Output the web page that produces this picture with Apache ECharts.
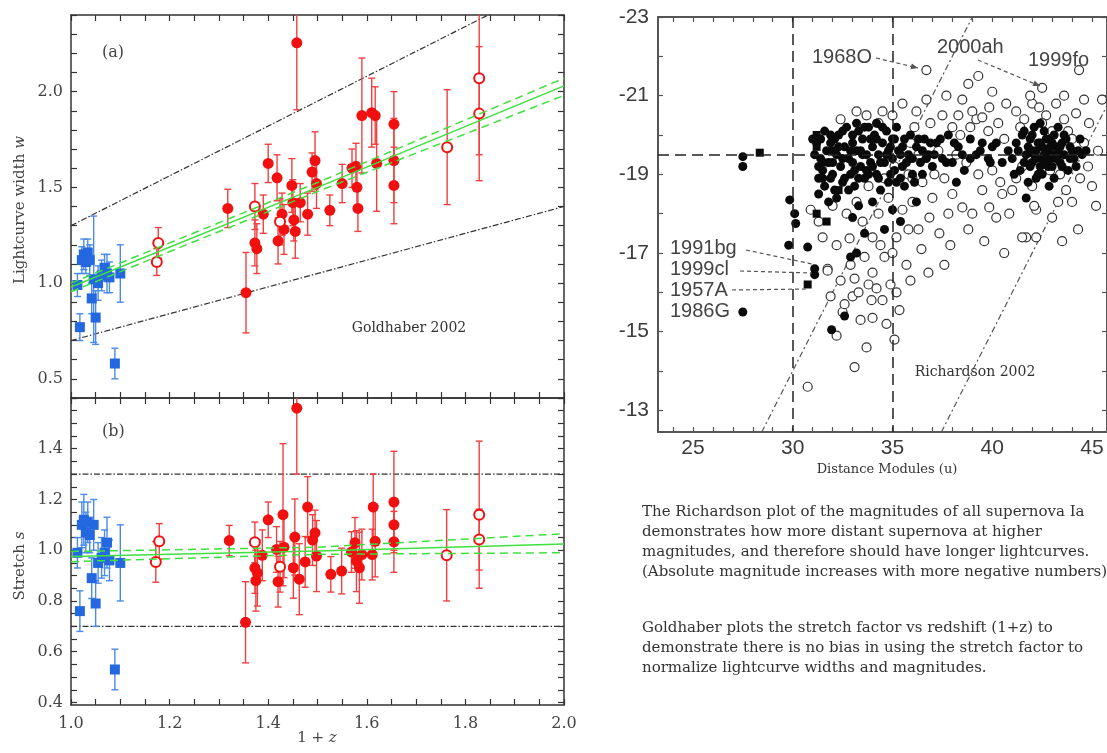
<!DOCTYPE html>
<html><head><meta charset="utf-8">
<script src="https://cdn.jsdelivr.net/npm/echarts@6/dist/echarts.min.js"></script>
<style>html,body{margin:0;padding:0;background:#fff}#c{width:1107px;height:753px}</style>
</head><body><div id="c"></div>
<script>
// ---------- Goldhaber 2002, panel (a) lightcurve width w and panel (b) stretch s ----------
const blueZ    = [1.013,1.018,1.022,1.026,1.030,1.034,1.038,1.042,1.046,1.050,1.055,1.062,1.068,1.073,1.078,1.089,1.100];
const blueW    = [0.99,0.77,1.12,1.15,1.11,1.16,1.12,0.92,1.02,0.82,1.00,1.04,1.08,1.05,1.03,0.58,1.05];
const blueWErr = [0.06,0.07,0.07,0.08,0.06,0.07,0.08,0.08,0.33,0.14,0.09,0.08,0.07,0.10,0.08,0.08,0.15];
const blueS    = [0.99,0.76,1.10,1.12,1.07,1.11,1.06,0.89,1.10,0.79,0.95,0.97,0.99,1.03,0.96,0.53,0.95];
const blueSErr = [0.06,0.08,0.09,0.10,0.08,0.08,0.07,0.08,0.10,0.09,0.08,0.08,0.09,0.10,0.08,0.08,0.15];

const redAZ   = [1.318,1.355,1.373,1.377,1.390,1.400,1.418,1.420,1.428,1.432,1.448,1.450,1.452,1.455,1.458,1.465,1.480,1.489,1.495,1.498,1.525,1.550,1.570,1.578,1.580,1.582,1.590,1.610,1.617,1.620,1.655,1.655,1.655];
const redAW   = [1.39,0.95,1.21,1.18,1.36,1.625,1.55,1.22,1.36,1.28,1.51,1.42,1.33,1.27,2.255,1.42,1.36,1.58,1.64,1.52,1.38,1.52,1.60,1.61,1.50,1.39,1.875,1.89,1.875,1.625,1.83,1.64,1.51];
const redAErr = [0.10,0.21,0.12,0.13,0.10,0.10,0.12,0.12,0.11,0.13,0.14,0.12,0.11,0.14,0.35,0.10,0.11,0.10,0.15,0.13,0.08,0.10,0.10,0.12,0.12,0.12,0.30,0.18,0.15,0.25,0.17,0.22,0.20];

const redBZ   = [1.321,1.354,1.373,1.375,1.378,1.388,1.400,1.417,1.420,1.430,1.432,1.451,1.454,1.458,1.463,1.475,1.480,1.490,1.495,1.498,1.527,1.549,1.569,1.576,1.579,1.585,1.590,1.611,1.613,1.617,1.655,1.655,1.655];
const redBS   = [1.038,0.716,0.93,0.88,0.91,0.98,1.12,1.003,0.876,1.14,1.012,0.931,1.052,1.56,0.886,0.954,1.17,1.04,1.068,0.977,0.905,0.918,0.993,1.029,0.957,0.931,0.983,0.983,1.17,1.035,1.19,1.10,1.033];
const redBErr = [0.06,0.16,0.10,0.12,0.13,0.10,0.07,0.09,0.10,0.28,0.12,0.12,0.15,0.26,0.14,0.10,0.12,0.10,0.09,0.14,0.07,0.09,0.08,0.10,0.12,0.14,0.10,0.10,0.13,0.14,0.20,0.10,0.12];

const openAZ   = [1.174,1.177,1.373,1.424,1.763,1.828,1.828];
const openAW   = [1.11,1.21,1.40,1.32,1.71,2.07,1.885];
const openAErr = [0.07,0.08,0.12,0.12,0.30,0.40,0.35];
const openBZ   = [1.172,1.179,1.373,1.424,1.762,1.828,1.828];
const openBS   = [0.954,1.035,1.031,0.935,0.98,1.14,1.042];
const openBErr = [0.08,0.07,0.08,0.10,0.18,0.29,0.12];

const fitZ   = [1.0, 1.5, 2.0];
const fitW   = [0.98, 1.50, 2.03];
const fitWHi = [1.00, 1.525, 2.07];
const fitWLo = [0.955, 1.478, 1.98];
const fitS   = [0.975, 0.997, 1.025];
const fitSHi = [0.995, 1.012, 1.065];
const fitSLo = [0.955, 0.984, 0.99];
const boundZ   = [1.0, 2.0];
const boundWHi = [1.3, 2.6];
const boundWLo = [0.7, 1.4];
const boundS   = [1.3, 0.7];

const zLabels = [1.0,1.2,1.4,1.6,1.8,2.0];
const wLabels = [0.5,1.0,1.5,2.0];
const sLabels = [0.4,0.6,0.8,1.0,1.2,1.4];

// ---------- Richardson 2002: distance modulus vs absolute magnitude ----------
const muLabels = [25,30,35,40,45];
const magLabels = [-23,-21,-19,-17,-15,-13];
const refMu = [30, 35];
const refMag = [-19.5];
const appMag = [16, 25];

const richFilled = [
 [27.5,-19.45],[27.5,-19.2],[29.85,-18.35],[30.1,-18.0],[30.15,-17.75],[29.8,-17.2],[30.75,-17.15],[31.1,-16.6],[31.1,-16.45],[31.95,-15.05],[27.5,-15.5],
 [31.0,-19.9],[31.2,-19.8],[31.4,-19.4],[31.5,-19.1],[31.3,-18.9],[31.6,-18.7],[31.8,-19.3],[31.9,-19.8],[32.0,-19.0],[32.1,-18.6],[32.2,-19.5],[32.3,-20.0],[32.4,-19.2],[32.5,-18.8],
 [32.6,-19.7],[32.7,-20.2],[32.8,-19.4],[32.9,-19.0],[33.0,-19.8],[33.1,-18.7],[33.2,-19.6],[33.3,-20.1],[33.4,-19.2],[33.5,-19.9],[33.6,-18.9],[33.7,-19.5],[33.8,-20.2],[33.9,-19.3],
 [34.0,-19.7],[34.1,-20.0],[34.2,-19.0],[34.3,-19.5],[34.4,-18.6],[34.5,-19.8],[34.6,-19.3],[34.7,-20.1],[34.8,-19.6],[34.9,-19.0],[35.0,-19.4],[35.1,-19.9],[35.2,-18.8],[35.3,-19.6],
 [35.5,-19.2],[35.6,-19.9],[35.8,-19.5],[36.0,-19.0],[36.2,-19.7],[36.4,-19.3],[36.6,-19.9],[36.8,-19.5],[37.0,-19.2],[37.2,-19.8],[37.5,-19.4],[37.8,-20.0],[38.0,-19.3],[38.3,-19.7],
 [38.6,-19.1],[38.9,-19.9],[39.2,-19.5],[39.5,-19.8],[39.8,-19.4],[40.0,-19.7],
 [31.3,-18.5],[31.8,-18.3],[32.2,-18.4],[31.5,-18.9],[32.6,-18.9],[31.7,-19.6],[32.0,-19.3],[33.0,-19.3],[33.4,-19.6],[34.2,-19.9],[35.4,-19.5],[36.5,-19.6],[31.9,-20.0],[33.7,-19.1],
 [31.1,-19.5],[31.3,-19.2],[31.6,-20.1],[31.9,-18.9],[32.1,-19.9],[32.3,-19.7],[32.5,-19.4],[32.5,-20.1],[32.8,-18.6],[32.9,-19.6],[33.1,-19.1],[33.2,-20.3],[33.5,-19.5],[33.6,-20.2],
 [33.8,-19.0],[33.9,-19.9],[34.0,-19.2],[34.2,-20.3],[34.3,-18.9],[34.4,-19.3],[34.5,-20.2],[34.7,-19.5],[34.8,-18.8],[35.0,-19.9],[35.1,-19.1],[35.2,-20.2],[35.4,-18.9],[35.5,-19.7],
 [35.7,-19.3],[35.9,-20.0],[36.0,-19.4],[36.1,-18.8],[36.3,-19.9],[36.5,-19.0],[36.7,-19.4],[36.9,-19.8],[37.1,-19.5],[37.4,-19.9],[37.7,-19.3],[38.1,-19.8],[38.5,-19.5],[38.9,-19.4],
 [39.4,-19.6],[39.9,-19.3],[32.0,-19.6],[33.3,-18.9],[34.9,-19.7],[35.6,-18.7],[31.4,-19.9],[33.0,-20.0],
 [33.0,-17.9],[33.3,-18.2],[34.0,-18.3],[34.6,-17.6],[35.0,-18.1],[33.2,-17.0],[32.9,-16.9],[35.4,-17.8],[36.2,-18.3],[38.2,-18.8],[32.6,-15.4],[33.6,-17.5],
 [41.0,-19.4],[41.2,-19.8],[41.4,-19.1],[41.5,-20.0],[41.7,-19.5],[41.8,-18.8],[41.9,-19.9],[42.0,-19.3],[42.1,-20.2],[42.2,-19.6],[42.3,-19.0],[42.4,-19.8],[42.5,-19.4],[42.6,-20.1],
 [42.7,-19.6],[42.8,-19.2],[42.9,-19.9],[43.0,-19.5],[43.1,-18.9],[43.2,-19.7],[43.3,-20.2],[43.4,-19.3],[43.5,-19.8],[43.6,-19.5],[43.8,-19.1],[43.9,-19.7],[44.1,-19.4],[44.3,-19.6],
 [44.5,-19.5],[42.0,-19.6],[42.6,-19.5],[42.4,-19.2],[43.0,-19.8],[42.8,-19.6],[41.7,-18.4],[42.85,-18.7],[40.5,-19.3],[40.2,-19.8],[42.2,-19.4],[43.3,-19.5],[42.5,-19.7],[41.6,-19.3],
 [41.1,-19.0],[41.3,-19.6],[41.6,-20.1],[41.9,-19.2],[42.0,-20.0],[42.2,-18.9],[42.3,-19.8],[42.4,-20.3],[42.5,-19.0],[42.6,-19.3],[42.7,-19.9],[42.9,-19.4],[43.0,-19.2],[43.1,-20.0],
 [43.2,-19.4],[43.4,-19.7],[43.5,-19.2],[43.7,-19.9],[43.9,-19.4],[44.0,-19.6],[44.2,-19.2],[44.4,-19.9],[44.7,-19.6],[42.1,-19.5],[42.7,-19.4],[43.3,-19.6],[41.8,-19.7],[42.9,-19.7],
 [43.6,-20.0],[40.8,-19.6]
];
const richSquares = [[28.35,-19.55],[31.2,-20.0],[31.2,-19.7],[31.2,-18.0],[31.7,-17.8],[30.75,-16.2],[31.6,-19.3],[32.3,-18.6]];
const richOpen = [
 [31.75,-16.6],[32.5,-15.5],[32.6,-15.7],[30.75,-13.6],[33.1,-14.1],[33.1,-16.35],[34.0,-16.5],[33.95,-15.8],[34.5,-15.8],[35.35,-15.55],[34.0,-15.35],[32.85,-17.37],
 [34.0,-17.4],[35.2,-17.4],[35.7,-16.7],[33.5,-17.8],[34.3,-18.0],[32.2,-17.2],[33.6,-16.9],[34.6,-16.9],[35.0,-17.0],[33.2,-18.3],[32.7,-18.0],[34.8,-18.4],[35.5,-18.1],[33.8,-16.2],
 [34.9,-16.2],[32.9,-16.7],[35.2,-16.0],[34.4,-17.2],[33.4,-15.3],[33.0,-15.9],[35.8,-17.6],[36.0,-18.3],[31.5,-17.4],[32.0,-18.2],
 [32.4,-20.4],[33.2,-20.6],[34.3,-20.3],[35.0,-20.5],[35.5,-20.8],[36.1,-20.2],[36.7,-20.9],[35.8,-19.0],[36.5,-18.8],[37.0,-18.4],[36.85,-17.9],[37.35,-17.5],[36.45,-17.1],
 [37.6,-16.7],[37.1,-19.0],[37.6,-18.9],[36.3,-19.5],[35.9,-19.8],[34.6,-18.9],[33.8,-18.7],[35.1,-19.2],[36.9,-20.3],
 [38.5,-20.9],[39.0,-20.6],[39.85,-20.7],[39.2,-20.4],[39.5,-20.45],[38.0,-20.2],[38.4,-20.0],[39.8,-20.1],[40.3,-20.3],[40.6,-19.9],[38.7,-19.3],[39.3,-19.0],[40.0,-19.1],[40.4,-18.8],
 [39.5,-18.6],[38.5,-18.16],[39.85,-18.16],[40.2,-17.9],[40.85,-18.0],[38.0,-18.5],[37.8,-18.0],[39.0,-18.0],[40.5,-18.5],[41.0,-18.6],[38.2,-19.5],[37.5,-20.5],[38.8,-21.3],
 [39.3,-21.5],[40.0,-21.1],[38.9,-20.2],
 [41.2,-20.6],[41.6,-20.4],[42.0,-20.8],[42.35,-20.7],[42.7,-20.5],[43.2,-20.8],[43.6,-20.4],[44.2,-20.55],[44.85,-20.3],[45.5,-20.9],[41.4,-20.2],[42.5,-20.3],[43.0,-20.1],
 [43.8,-20.1],[44.0,-19.9],[44.6,-19.8],[44.8,-19.2],[44.4,-18.9],[43.7,-18.6],[43.3,-18.3],[42.2,-18.1],[41.7,-17.4],[42.2,-17.4],[41.5,-17.4],[43.0,-17.9],[41.2,-18.9],
 [42.0,-18.7],[44.0,-18.3],[45.0,-18.7],[45.3,-19.6],[41.5,-19.2],[42.9,-19.1],[43.4,-19.0],[42.1,-18.2],
 [36.7,-21.65],[42.5,-21.2],[44.35,-21.65],[31.75,-16.55],[36.0,-18.9],[37.3,-19.6],
 [30.9,-18.1],[31.3,-17.8],[32.4,-16.3],[33.3,-16.0],[34.2,-16.1],[34.7,-15.2],[35.1,-14.8],[33.7,-14.6],[32.2,-14.9],[31.9,-15.9],[35.9,-16.3],[36.3,-17.6],[36.8,-16.5],
 [37.9,-17.2],[38.8,-17.6],[39.6,-17.3],[40.6,-17.0],[43.5,-17.3],[44.3,-17.6],[45.2,-18.2],[38.3,-20.5],[40.7,-20.8],[41.9,-21.0],[43.6,-21.0],[44.6,-20.9],[37.7,-21.0],
 [36.2,-20.6],[34.5,-20.6],[33.7,-20.5]
];

// ---------- helpers ----------
const zip = (...a) => a[0].map((_, i) => a.map(x => x[i]));
const range = (a, b, s) => Array.from({length: Math.round((b - a) / s) + 1}, (_, i) => +(a + i * s).toFixed(4));

const SERIF = 'DejaVu Serif';
const SANS = 'Liberation Sans';
const RED = '#f01010', REDBAR = '#f04040', BLUE = '#2468e0', BLUEBAR = '#4a8ae8', GREEN = '#3ee03e';

function errItem(color) {
  return function (params, api) {
    const x = api.value(0), y = api.value(1), e = api.value(2);
    const a = api.coord([x, y + e]), b = api.coord([x, y - e]);
    const c = 3.5, st = {stroke: color, lineWidth: 1.4};
    return {type: 'group', children: [
      {type: 'line', shape: {x1: a[0], y1: a[1], x2: b[0], y2: b[1]}, style: st},
      {type: 'line', shape: {x1: a[0] - c, y1: a[1], x2: a[0] + c, y2: a[1]}, style: st},
      {type: 'line', shape: {x1: b[0] - c, y1: b[1], x2: b[0] + c, y2: b[1]}, style: st}
    ]};
  };
}

function axis(o) {
  const lc = o.lineColor || '#333';
  return {
    type: 'value', gridIndex: o.grid, position: o.position, min: o.min, max: o.max, inverse: !!o.inverse,
    splitLine: {show: false},
    axisLine: {show: true, onZero: false, lineStyle: {color: lc, width: o.lineWidth || 1.5}},
    axisTick: {show: true, inside: true, length: o.tickLen || 6, customValues: o.ticks, lineStyle: {color: lc, width: 1.2}},
    axisLabel: o.labels ? {show: true, customValues: o.labels, margin: o.margin || 8, color: o.labelColor || '#444',
      fontFamily: o.font || SERIF, fontSize: o.fontSize || 16, formatter: o.fmt} : {show: false}
  };
}

const zTicks = range(1.0, 2.0, 0.05);
const f1 = v => (+v).toFixed(1);

const xAxes = [
  axis({grid: 0, position: 'bottom', min: 1, max: 2, ticks: zTicks}),
  axis({grid: 0, position: 'top', min: 1, max: 2, ticks: zTicks}),
  axis({grid: 1, position: 'bottom', min: 1, max: 2, ticks: zTicks, labels: zLabels, fmt: f1, margin: 11}),
  axis({grid: 1, position: 'top', min: 1, max: 2, ticks: zTicks}),
  axis({grid: 2, position: 'bottom', min: 23.25, max: 45.75, ticks: range(24, 45, 1), labels: muLabels, font: SANS, fontSize: 21, margin: 6, lineColor: '#555', lineWidth: 2, tickLen: 5, labelColor: '#3c3c3c'}),
  axis({grid: 2, position: 'top', min: 23.25, max: 45.75, ticks: range(24, 45, 1), lineColor: '#555', lineWidth: 2, tickLen: 5})
];
const yAxes = [
  axis({grid: 0, position: 'left', min: 0.4, max: 2.4, ticks: range(0.4, 2.4, 0.1), labels: wLabels, fmt: f1}),
  axis({grid: 0, position: 'right', min: 0.4, max: 2.4, ticks: range(0.4, 2.4, 0.1)}),
  axis({grid: 1, position: 'left', min: 0.39, max: 1.6, ticks: range(0.4, 1.6, 0.05), labels: sLabels, fmt: f1}),
  axis({grid: 1, position: 'right', min: 0.39, max: 1.6, ticks: range(0.4, 1.6, 0.05)}),
  axis({grid: 2, position: 'left', min: -23, max: -12.45, inverse: true, ticks: range(-23, -13, 1), labels: magLabels, font: SANS, fontSize: 21, margin: 9, lineColor: '#555', lineWidth: 2, tickLen: 5, labelColor: '#3c3c3c', fmt: v => String(Math.round(v))}),
  axis({grid: 2, position: 'right', min: -23, max: -12.45, inverse: true, ticks: range(-23, -13, 1), lineColor: '#555', lineWidth: 2, tickLen: 5})
];

const dashDot = {color: '#333', width: 1.2, type: [6, 2, 1.5, 2]};
function lineS(xi, yi, data, style, z) {
  return {type: 'line', xAxisIndex: xi, yAxisIndex: yi, data, symbol: 'none', silent: true, lineStyle: style, z: z || 1, clip: true};
}
function errS(xi, yi, data, color) {
  return {type: 'custom', xAxisIndex: xi, yAxisIndex: yi, data, renderItem: errItem(color), clip: true, silent: true, z: 2};
}
function dotS(xi, yi, data, kind) {
  const base = {type: 'scatter', xAxisIndex: xi, yAxisIndex: yi, data, silent: true, z: 3, clip: true};
  if (kind === 'blue') return Object.assign(base, {symbol: 'rect', symbolSize: 10, itemStyle: {color: BLUE, opacity: 1}});
  if (kind === 'red') return Object.assign(base, {symbol: 'circle', symbolSize: 11, itemStyle: {color: RED, opacity: 1}});
  return Object.assign(base, {symbol: 'circle', symbolSize: 10, itemStyle: {color: '#fff', borderColor: RED, borderWidth: 2, opacity: 1}});
}

const series = [];
// panel (a)
series.push(lineS(0, 0, zip(boundZ, boundWHi), dashDot));
series.push(lineS(0, 0, zip(boundZ, boundWLo), dashDot));
series.push(lineS(0, 0, zip(fitZ, fitW), {color: GREEN, width: 1.5}, 4));
series.push(lineS(0, 0, zip(fitZ, fitWHi), {color: GREEN, width: 1.5, type: [8, 5]}, 4));
series.push(lineS(0, 0, zip(fitZ, fitWLo), {color: GREEN, width: 1.5, type: [8, 5]}, 4));
series.push(errS(0, 0, zip(blueZ, blueW, blueWErr), BLUEBAR));
series.push(errS(0, 0, zip(redAZ, redAW, redAErr), REDBAR));
series.push(errS(0, 0, zip(openAZ, openAW, openAErr), REDBAR));
series.push(dotS(0, 0, zip(blueZ, blueW), 'blue'));
series.push(dotS(0, 0, zip(redAZ, redAW), 'red'));
series.push(dotS(0, 0, zip(openAZ, openAW), 'open'));
// panel (b)
series.push(lineS(2, 2, zip(boundZ, [boundS[0], boundS[0]]), dashDot));
series.push(lineS(2, 2, zip(boundZ, [boundS[1], boundS[1]]), dashDot));
series.push(lineS(2, 2, zip(fitZ, fitS), {color: GREEN, width: 1.5}, 4));
series.push(lineS(2, 2, zip(fitZ, fitSHi), {color: GREEN, width: 1.5, type: [8, 5]}, 4));
series.push(lineS(2, 2, zip(fitZ, fitSLo), {color: GREEN, width: 1.5, type: [8, 5]}, 4));
series.push(errS(2, 2, zip(blueZ, blueS, blueSErr), BLUEBAR));
series.push(errS(2, 2, zip(redBZ, redBS, redBErr), REDBAR));
series.push(errS(2, 2, zip(openBZ, openBS, openBErr), REDBAR));
series.push(dotS(2, 2, zip(blueZ, blueS), 'blue'));
series.push(dotS(2, 2, zip(redBZ, redBS), 'red'));
series.push(dotS(2, 2, zip(openBZ, openBS), 'open'));
// Richardson panel
appMag.forEach(m => series.push(lineS(4, 4, [[m + 12.45, -12.45], [m + 23, -23]], {color: '#555', width: 1.2, type: [6, 3, 2, 3]}, 2)));
series.push({type: 'scatter', xAxisIndex: 4, yAxisIndex: 4, data: richOpen, symbol: 'circle', symbolSize: 9, silent: true, z: 3,
  itemStyle: {color: '#fff', borderColor: '#333', borderWidth: 1.2, opacity: 1},
  markLine: {silent: true, symbol: 'none', label: {show: false}, lineStyle: {color: '#222', width: 1.5, type: [11, 6]},
    data: refMu.map(v => ({xAxis: v})).concat(refMag.map(v => ({yAxis: v})))}});
series.push({type: 'scatter', xAxisIndex: 4, yAxisIndex: 4, data: richFilled, symbol: 'circle', symbolSize: 9, silent: true, z: 4, itemStyle: {color: '#0a0a0a', opacity: 1}});
series.push({type: 'scatter', xAxisIndex: 4, yAxisIndex: 4, data: richSquares, symbol: 'rect', symbolSize: 8, silent: true, z: 4, itemStyle: {color: '#0a0a0a', opacity: 1}});

// ---------- annotations ----------
function txt(text, x, y, font, fill, align, extra) {
  return Object.assign({type: 'text', x, y, silent: true, z: 10,
    style: {text, font, fill: fill || '#333', align: align || 'left', verticalAlign: 'middle', textAlign: align || 'left', textVerticalAlign: 'middle'}}, extra || {});
}
function leader(x1, y1, x2, y2, arrow) {
  const els = [{type: 'line', silent: true, z: 10, shape: {x1, y1, x2, y2}, style: {stroke: '#555', lineWidth: 1.2, lineDash: [4, 3]}}];
  if (arrow) {
    const ang = Math.atan2(y2 - y1, x2 - x1), L = 7, W = 3;
    const bx = x2 - L * Math.cos(ang), by = y2 - L * Math.sin(ang);
    els.push({type: 'polygon', silent: true, z: 10, shape: {points: [[x2, y2], [bx - W * Math.sin(ang), by + W * Math.cos(ang)], [bx + W * Math.sin(ang), by - W * Math.cos(ang)]]}, style: {fill: '#555'}});
  }
  return els;
}
const F16 = '16px "' + SERIF + '"';
const richLbl = (a, b, x, y, rot) => ({type: 'text', x, y, rotation: rot || 0, silent: true, z: 10,
  style: {text: '{n|' + a + '}{i|' + b + '}', align: 'center', verticalAlign: 'middle', textAlign: 'center', textVerticalAlign: 'middle', fill: '#444',
    rich: {n: {fontFamily: SERIF, fontSize: 15, fill: '#444'}, i: {fontFamily: SERIF, fontSize: 15, fontStyle: 'italic', fill: '#444'}}}});
const SANSF = '20px "' + SANS + '"';
const graphic = [
  txt('(a)', 102, 53, F16, '#444'),
  txt('(b)', 102, 432, F16, '#444'),
  txt('Goldhaber 2002', 409, 328, '14px "' + SERIF + '"', '#333', 'center'),
  richLbl('Lightcurve width ', 'w', 20, 210, Math.PI / 2),
  richLbl('Stretch ', 's', 20, 566, Math.PI / 2),
  richLbl('1 + ', 'z', 317, 738, 0),
  txt('1968O', 812, 57, SANSF, '#444'),
  txt('2000ah', 937, 47, SANSF, '#444'),
  txt('1999fo', 1028, 60, SANSF, '#444'),
  txt('1991bg', 670, 248, SANSF, '#444'),
  txt('1999cl', 670, 269, SANSF, '#444'),
  txt('1957A', 670, 290, SANSF, '#444'),
  txt('1986G', 670, 311, SANSF, '#444'),
  txt('Richardson 2002', 975, 372, '14px "' + SERIF + '"', '#333', 'center'),
  txt('Distance Modules (u)', 887, 470, '13px "' + SERIF + '"', '#333', 'center'),
  {type: 'text', x: 642, y: 502, silent: true, z: 10,
    style: {text: 'The Richardson plot of the magnitudes of all supernova Ia\ndemonstrates how more distant supernova at higher\nmagnitudes, and therefore should have longer lightcurves.\n(Absolute magnitude increases with more negative numbers)',
      font: '15px "' + SERIF + '"', fill: '#333', lineHeight: 20, align: 'left', verticalAlign: 'top', textAlign: 'left', textVerticalAlign: 'top'}},
  {type: 'text', x: 642, y: 618, silent: true, z: 10,
    style: {text: 'Goldhaber plots the stretch factor vs redshift (1+z) to\ndemonstrate there is no bias in using the stretch factor to\nnormalize lightcurve widths and magnitudes.',
      font: '15px "' + SERIF + '"', fill: '#333', lineHeight: 20, align: 'left', verticalAlign: 'top', textAlign: 'left', textVerticalAlign: 'top'}}
].concat(
  leader(876, 58, 918, 68, true),
  leader(978, 60, 1040, 86, true),
  leader(746, 250, 812, 264, false),
  leader(740, 271, 812, 273, false),
  leader(732, 290, 806, 289, false)
);

const chart = echarts.init(document.getElementById('c'), null, {renderer: 'canvas'});
chart.setOption({
  animation: false,
  backgroundColor: '#fff',
  grid: [
    {left: 71, top: 15, width: 493, height: 383},
    {left: 71, top: 398, width: 493, height: 307},
    {left: 658, top: 17, width: 450, height: 415}
  ],
  xAxis: xAxes,
  yAxis: yAxes,
  series,
  graphic
});
</script></body></html>
